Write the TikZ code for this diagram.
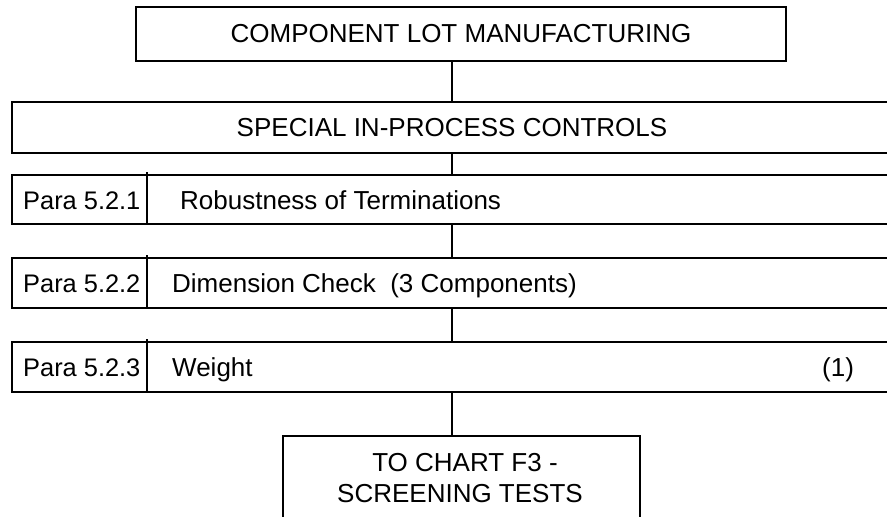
\documentclass[tikz,border=0pt]{standalone}
\usepackage{fontspec}
\setmainfont{Liberation Sans}
\begin{document}
\begin{tikzpicture}[x=1pt,y=-1pt,
  box/.style={draw, line width=1.8pt, inner sep=0pt},
  link/.style={draw, line width=1.5pt},
  lbl/.style={inner sep=0pt, font=\fontsize{26}{31}\selectfont},
  para/.style={inner sep=0pt, font=\fontsize{25.4}{31}\selectfont}]
\useasboundingbox (0,0) rectangle (887,517);
\clip (0,0) rectangle (887,517);
% top box
\node[box, lbl, minimum width=650pt, minimum height=54pt] (top) at (461,34) {COMPONENT LOT MANUFACTURING};
% special box
\node[box, lbl, minimum width=880pt, minimum height=51pt] (special) at (452,127.5) {SPECIAL IN-PROCESS CONTROLS};
% rows
\node[box, minimum width=888pt, minimum height=49pt] (r1) at (456,199.5) {};
\node[box, minimum width=888pt, minimum height=50pt] (r2) at (456,283) {};
\node[box, minimum width=888pt, minimum height=50pt] (r3) at (456,367) {};
\draw[line width=1.5pt] (147,172) -- (147,224);
\draw[line width=1.5pt] (147,255) -- (147,308);
\draw[line width=1.5pt] (147,339) -- (147,392);
\node[para, anchor=base west] (p1) at (23,209) {Para 5.2.1};
\node[lbl, anchor=base west] (t1) at (180,209) {Robustness of Terminations};
\node[para, anchor=base west] (p2) at (23,292.5) {Para 5.2.2};
\node[lbl, anchor=base west] (t2) at (172,292.5) {Dimension Check\ \ (3 Components)};
\node[para, anchor=base west] (p3) at (23,376.5) {Para 5.2.3};
\node[lbl, anchor=base west] (t3) at (172,376.5) {Weight};
\node[lbl, anchor=base west] (n3) at (822,376.5) {(1)};
% bottom box
\node[box, minimum width=357pt, minimum height=104pt] (bot) at (461.5,488) {};
\node[lbl, anchor=base] (b1) at (465,471) {TO CHART F3 -};
\node[lbl, anchor=base] (b2) at (460,502) {SCREENING TESTS};
% connectors
\draw[link] (top.south -| special.north) -- (special.north);
\draw[link] (special.south) -- (special.south |- r1.north);
\draw[link] (special.south |- r1.south) -- (special.south |- r2.north);
\draw[link] (special.south |- r2.south) -- (special.south |- r3.north);
\draw[link] (special.south |- r3.south) -- (special.south |- bot.north);
\end{tikzpicture}
\end{document}
